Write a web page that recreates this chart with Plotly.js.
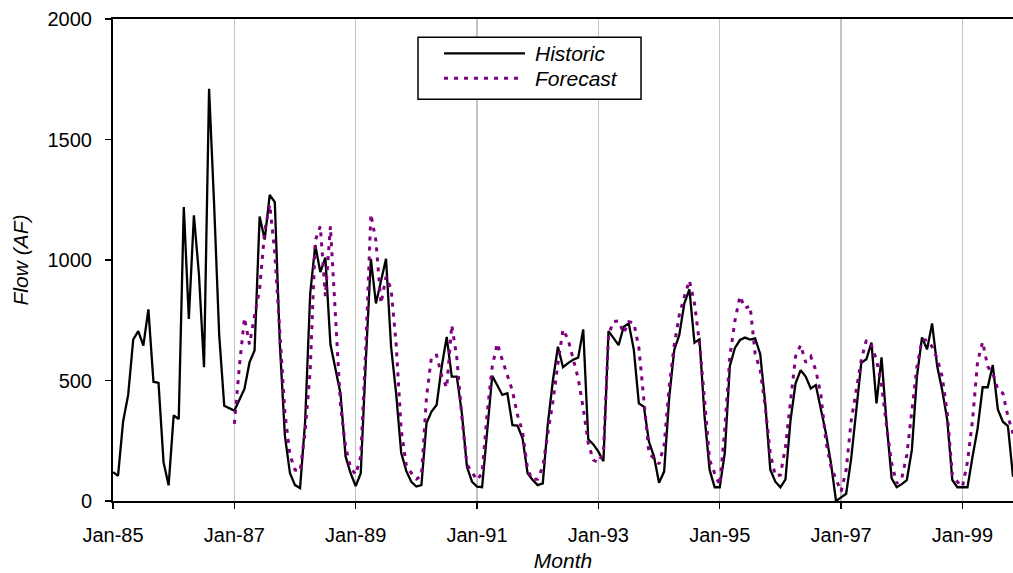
<!DOCTYPE html>
<html>
<head>
<meta charset="utf-8">
<script src="https://cdn.plot.ly/plotly-3.0.1.min.js"></script>
<style>html,body{margin:0;padding:0;background:#fff;}#chart{width:1013px;height:573px;}</style>
</head>
<body>
<div id="chart"></div>
<script>
// Month categories Jan-85 .. Nov-99
const monthNames = ['Jan','Feb','Mar','Apr','May','Jun','Jul','Aug','Sep','Oct','Nov','Dec'];
const months = [];
for (let y = 85; y <= 99; y++) {
  for (let m = 0; m < 12; m++) {
    if (y === 99 && m > 10) break;
    months.push(monthNames[m] + '-' + String(y).padStart(2, '0'));
  }
}

// Historic flow (AF), Jan-85 .. Nov-99
const historic = [
  120,105,330,440,670,705,645,795,495,490,160,65,        // 1985
  355,340,1220,755,1185,940,555,1710,1230,690,395,385,   // 1986
  375,420,465,575,625,1180,1085,1270,1240,650,270,115,   // 1987
  66,54,330,860,1062,950,1010,650,545,445,185,115,       // 1988
  62,115,580,1005,820,915,1005,640,445,200,125,80,       // 1989
  60,66,322,371,398,556,681,516,516,364,142,80,          // 1990
  60,57,300,519,480,440,447,315,313,260,115,87,          // 1991
  66,73,320,500,640,555,572,586,595,712,256,235,         // 1992
  205,165,705,676,647,723,737,629,405,391,246,184,       // 1993
  76,122,427,627,689,820,878,657,671,350,129,57,         // 1994
  57,200,560,635,668,678,670,675,610,405,130,80,         // 1995
  57,90,336,488,543,516,467,481,378,281,156,0,           // 1996
  15,30,177,364,574,588,657,405,596,322,94,57,           // 1997
  70,87,212,516,679,629,737,560,460,336,87,57,           // 1998
  57,57,184,301,472,472,564,380,329,311,101              // 1999
];

// Forecast flow (AF), Jan-87 .. Nov-99
const forecastStart = 'Jan-87';
const forecast = [
  320,560,760,650,770,880,1120,1230,1030,715,365,190,    // 1987
  129,123,288,540,1080,1140,850,1140,780,395,225,137,    // 1988
  110,185,640,1190,1080,820,930,880,650,295,149,116,     // 1989
  91,104,430,600,605,520,470,730,595,346,152,120,        // 1990
  87,115,364,557,654,585,516,457,357,288,130,88,         // 1991
  91,142,281,412,571,712,671,585,509,385,239,170,        // 1992
  159,200,690,745,747,696,744,740,637,419,197,177,       // 1993
  154,232,474,647,772,848,915,820,654,419,170,115,       // 1994
  66,300,599,747,850,800,810,610,543,391,197,104,        // 1995
  108,225,405,600,647,575,600,543,442,246,142,90,        // 1996
  39,129,333,460,585,668,647,585,481,308,156,73,         // 1997
  94,191,364,557,668,668,640,592,516,364,108,80,         // 1998
  59,163,336,580,660,558,530,463,447,350,280             // 1999
];

const xTicks = ['Jan-85','Jan-87','Jan-89','Jan-91','Jan-93','Jan-95','Jan-97','Jan-99'];
const yTicks = [0, 500, 1000, 1500, 2000];
const seriesNames = ['Historic', 'Forecast'];

const FONT = 'Liberation Sans, Arial, sans-serif';
const fStart = months.indexOf(forecastStart);

const traces = [
  {
    x: months, y: historic, type: 'scatter', mode: 'lines', name: seriesNames[0],
    line: {color: '#000000', width: 2.3}, showlegend: false, hoverinfo: 'x+y'
  },
  {
    x: months.slice(fStart, fStart + forecast.length), y: forecast, type: 'scatter', mode: 'lines', name: seriesNames[1],
    line: {color: '#800080', width: 3, dash: '4px,6px'}, showlegend: false, hoverinfo: 'x+y'
  }
];

// legend box geometry (paper coords)
const L = {x0: 0.3389, x1: 0.5867, y0: 0.8334, y1: 0.962, lx0: 0.3678, lx1: 0.4578, lx1b: 0.4533, yH: 0.9288, yF: 0.877, tx: 0.4667};

const layout = {
  width: 1013, height: 573,
  margin: {l: 113, r: 0, t: 19, b: 72},
  paper_bgcolor: '#ffffff', plot_bgcolor: '#ffffff',
  font: {family: FONT, size: 20, color: '#000000'},
  showlegend: false,
  xaxis: {
    type: 'category',
    categoryorder: 'array', categoryarray: months,
    range: [0, months.length - 1],
    tickmode: 'array', tickvals: xTicks, ticktext: xTicks,
    ticks: 'outside', ticklen: 6, tickwidth: 1.5, tickcolor: '#000',
    ticklabelstandoff: 9,
    showgrid: true, gridcolor: '#c4c4c4', gridwidth: 1.5,
    showline: true, linecolor: '#000', linewidth: 2, mirror: true,
    zeroline: false,
    tickfont: {family: FONT, size: 20},
    title: {text: 'Month', font: {family: FONT, size: 21, style: 'italic'}, standoff: 8}
  },
  yaxis: {
    range: [0, 2000],
    tickmode: 'array', tickvals: yTicks, ticktext: yTicks.map(String),
    ticks: 'outside', ticklen: 6, tickwidth: 1.5, tickcolor: '#000',
    showgrid: false, zeroline: false,
    showline: true, linecolor: '#000', linewidth: 2, mirror: true,
    tickfont: {family: FONT, size: 20},
    ticklabelstandoff: 9,
    title: {text: 'Flow (AF)', font: {family: FONT, size: 21, style: 'italic'}, standoff: 13}
  },
  shapes: [
    {type: 'rect', xref: 'paper', yref: 'paper', x0: L.x0, x1: L.x1, y0: L.y0, y1: L.y1,
     line: {color: '#000', width: 1.5}, fillcolor: '#ffffff', layer: 'above'},
    {type: 'line', xref: 'paper', yref: 'paper', x0: L.lx0, x1: L.lx1, y0: L.yH, y1: L.yH,
     line: {color: '#000', width: 2.3}, layer: 'above'},
    {type: 'line', xref: 'paper', yref: 'paper', x0: L.lx0, x1: L.lx1b, y0: L.yF, y1: L.yF,
     line: {color: '#800080', width: 3, dash: '4px,6px'}, layer: 'above'}
  ],
  annotations: [
    {xref: 'paper', yref: 'paper', x: L.tx, y: L.yH, xanchor: 'left', yanchor: 'middle', showarrow: false,
     text: seriesNames[0], font: {family: FONT, size: 21, style: 'italic', color: '#000'}},
    {xref: 'paper', yref: 'paper', x: L.tx, y: L.yF, xanchor: 'left', yanchor: 'middle', showarrow: false,
     text: seriesNames[1], font: {family: FONT, size: 21, style: 'italic', color: '#000'}}
  ]
};

Plotly.newPlot('chart', traces, layout, {displayModeBar: false, staticPlot: true});
</script>
</body>
</html>
